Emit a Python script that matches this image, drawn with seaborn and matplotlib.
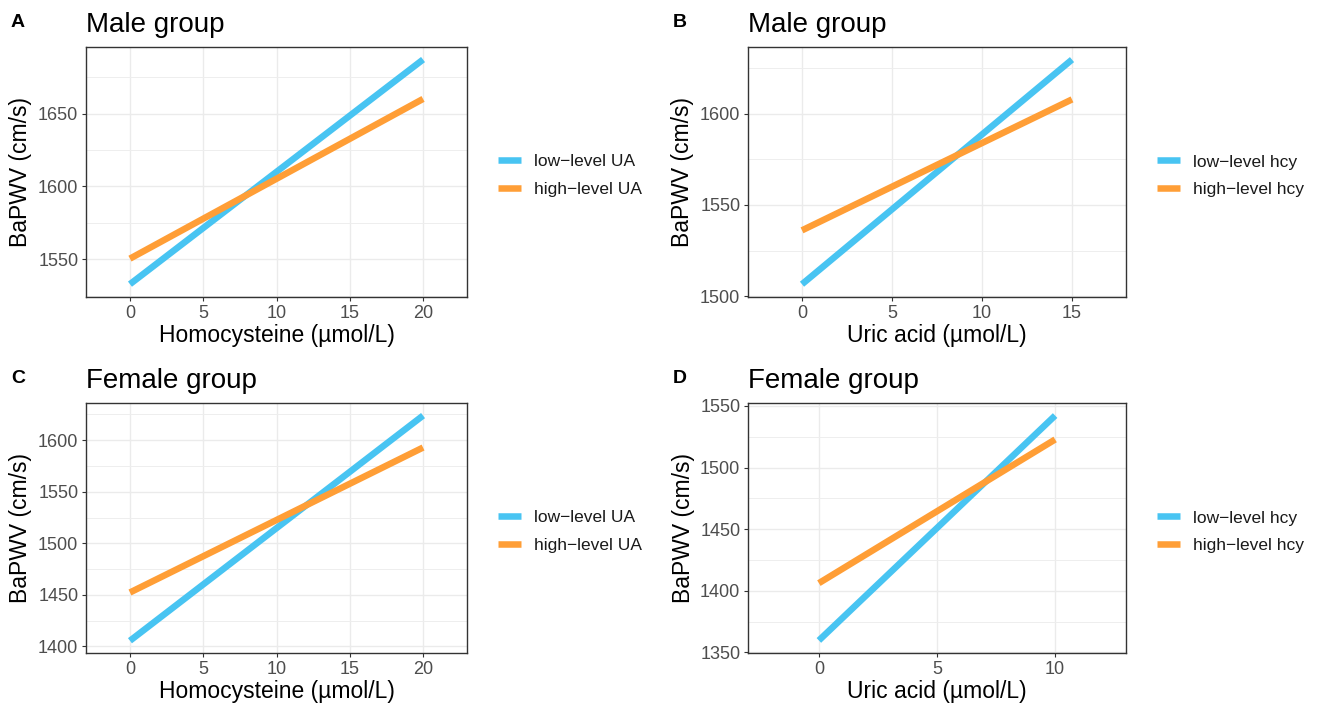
import numpy as np
import pandas as pd
import matplotlib
matplotlib.use('Agg')
import matplotlib.pyplot as plt
from matplotlib.ticker import MultipleLocator
import seaborn as sns

sns.set_theme(style='white')
plt.rcParams['font.family'] = ['Liberation Sans', 'DejaVu Sans']
plt.rcParams['axes.unicode_minus'] = True
plt.rcParams['text.color'] = 'black'
plt.rcParams['axes.labelcolor'] = 'black'

# ---------- data (fitted line end points) ----------
hcy_x = [0, 20]
ua_male_x = [0, 15]
ua_female_x = [0, 10]

male_low_ua = [1533, 1687]
male_high_ua = [1550.5, 1660]
male_low_hcy = [1506.6, 1629.6]
male_high_hcy = [1536.1, 1607.8]
female_low_ua = [1405.5, 1623.9]
female_high_ua = [1452.3, 1592.9]
female_low_hcy = [1359.7, 1542.2]
female_high_hcy = [1406.2, 1522.8]

ua_names = ['low\u2212level UA', 'high\u2212level UA']
hcy_names = ['low\u2212level hcy', 'high\u2212level hcy']

BLUE = '#48C4F2'
ORANGE = '#FF9E36'

W, H = 1320, 707
fig = plt.figure(figsize=(W / 100, H / 100), dpi=100)


def px_rect(l, t, r, b):
    return [l / W, 1 - b / H, (r - l) / W, (b - t) / H]


def draw_panel(box, letter, title, xlabel, x, low, high, names, xlim, ylim):
    l, t, r, b = box
    ax = fig.add_axes(px_rect(l, t, r, b))
    df = pd.DataFrame({
        'x': list(x) * 2,
        'y': list(low) + list(high),
        'group': [names[0]] * len(x) + [names[1]] * len(x),
    })
    sns.lineplot(data=df, x='x', y='y', hue='group', hue_order=names,
                 palette=[BLUE, ORANGE], lw=4.7, ax=ax,
                 solid_capstyle='butt')
    ax.set_xlim(*xlim)
    ax.set_ylim(*ylim)
    ax.xaxis.set_major_locator(MultipleLocator(5))
    ax.yaxis.set_major_locator(MultipleLocator(50))
    ax.yaxis.set_minor_locator(MultipleLocator(25))
    ax.grid(True, which='major', color='#EBEBEB', lw=1.0)
    ax.grid(True, which='minor', axis='y', color='#EEEEEE', lw=0.7)
    ax.set_axisbelow(True)
    for s in ax.spines.values():
        s.set_color('#333333')
        s.set_linewidth(1.0)
    ax.tick_params(axis='both', which='major', length=3, width=0.8,
                   color='#333333', labelcolor='#4D4D4D', labelsize=13,
                   pad=2.5, bottom=True, left=True)
    ax.tick_params(which='minor', length=0)
    ax.set_xlabel(xlabel, fontsize=16.5, color='black', labelpad=2)
    ax.set_ylabel('BaPWV (cm/s)', fontsize=16.5, color='black', labelpad=4)

    handles, labels = ax.get_legend_handles_labels()
    leg = ax.legend(handles, labels, loc='center left',
                    bbox_to_anchor=(1 + 31 / (r - l), 0.485),
                    frameon=False, fontsize=12.5, handlelength=1.3,
                    handletextpad=0.8, labelspacing=0.72,
                    borderpad=0, borderaxespad=0, labelcolor='#1A1A1A')
    for h in leg.get_lines():
        h.set_linewidth(4.7)
        h.set_solid_capstyle('butt')

    fig.text(l / W, 1 - (t - 15) / H, title, fontsize=20, va='baseline',
             ha='left', color='black')
    fig.text((l - 75) / W, 1 - (t - 20) / H, letter, fontsize=14,
             fontweight='bold', va='baseline', ha='left', color='black')
    return ax


draw_panel((86, 47, 467, 297), 'A', 'Male group', 'Homocysteine (\u00b5mol/L)',
           hcy_x, male_low_ua, male_high_ua, ua_names, (-3, 23), (1524.2, 1695.6))
draw_panel((748, 47, 1126, 297), 'B', 'Male group', 'Uric acid (\u00b5mol/L)',
           ua_male_x, male_low_hcy, male_high_hcy, hcy_names, (-3, 18), (1499.6, 1636.5))
draw_panel((86, 403, 467, 653), 'C', 'Female group', 'Homocysteine (\u00b5mol/L)',
           hcy_x, female_low_ua, female_high_ua, ua_names, (-3, 23), (1393.6, 1636.1))
draw_panel((748, 403, 1126, 653), 'D', 'Female group', 'Uric acid (\u00b5mol/L)',
           ua_female_x, female_low_hcy, female_high_hcy, hcy_names, (-3, 13), (1349.5, 1552.4))

fig.savefig('out.png', dpi=100)
